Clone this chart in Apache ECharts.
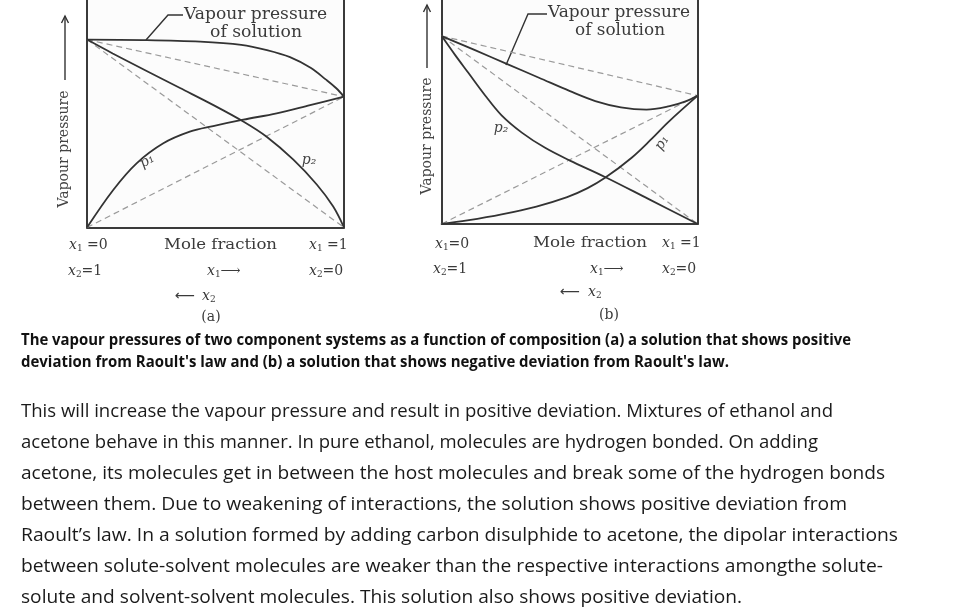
<!DOCTYPE html>
<html><head><meta charset="utf-8">
<script src="https://cdn.jsdelivr.net/npm/echarts@6/dist/echarts.min.js"></script>
<style>html,body{margin:0;padding:0;background:#fff}#c{width:955px;height:611px}</style>
</head><body><div id="c"></div>
<script>
// ---- Data (a): positive deviation ----
const aTotalX = [0,0.22,0.44,0.6,0.7,0.79,0.87,0.93,0.97,1];
const aTotalY = [82.6,82.4,81.7,80.3,78,74.9,70.2,65.0,61.2,57.5];
const aP2X = [0,0.1,0.232,0.362,0.492,0.608,0.699,0.803,0.894,0.958,1];
const aP2Y = [82.6,76.5,68.8,61.3,53.8,46.6,39.9,29.8,18.9,9.2,0];
const aP1X = [0,0.102,0.193,0.297,0.40,0.491,0.608,0.738,0.868,1];
const aP1Y = [0,16.5,28.2,37.0,42.1,44.6,47.4,50.2,53.8,57.5];
const aPure1 = 57.5, aPure2 = 82.6;
// ---- Data (b): negative deviation ----
const bTotalX = [0,0.13,0.254,0.38,0.501,0.6,0.70,0.80,0.89,0.95,1];
const bTotalY = [83.9,77.6,71.5,65.3,59.3,54.9,52.1,51.1,52.6,54.6,57.3];
const bP2X = [0,0.052,0.104,0.169,0.234,0.313,0.404,0.501,0.638,0.807,1];
const bP2Y = [83.9,75.5,67.5,57.5,48.5,40.8,34.0,28.3,21.0,11.2,0];
const bP1X = [0,0.1,0.234,0.37,0.49,0.57,0.638,0.742,0.82,0.885,1];
const bP1Y = [0,1.6,4.3,7.8,12.0,16.0,20.6,29.6,38.0,45.5,57.3];
const bPure1 = 57.3, bPure2 = 83.9;
// ---- Text ----
const captionLines = [
 "The vapour pressures of two component systems as a function of composition (a) a solution that shows positive",
 "deviation from Raoult's law and (b) a solution that shows negative deviation from Raoult's law."
];
const paraLines = [
 "This will increase the vapour pressure and result in positive deviation. Mixtures of ethanol and",
 "acetone behave in this manner. In pure ethanol, molecules are hydrogen bonded. On adding",
 "acetone, its molecules get in between the host molecules and break some of the hydrogen bonds",
 "between them. Due to weakening of interactions, the solution shows positive deviation from",
 "Raoult\u2019s law. In a solution formed by adding carbon disulphide to acetone, the dipolar interactions",
 "between solute-solvent molecules are weaker than the respective interactions amongthe solute-",
 "solute and solvent-solvent molecules. This solution also shows positive deviation."
];
const captionEnds = [851, 729];
const paraEnds = [833, 818, 885, 847, 898, 883, 742];

function zip(xs, ys){ return xs.map((x,i)=>[x, ys[i]]); }

const cv = document.createElement('canvas').getContext('2d');
function measure(text, font){ cv.font = font; return cv.measureText(text).width; }
function fitText(x, y, text, font, width, color){
  const w = measure(text, font);
  return {type:'text', x:x, y:y, scaleX: width / w, silent:true,
    style:{text:text, font:font, fill:color, textAlign:'left', textVerticalAlign:'middle'}};
}
function txt(x, y, text, font, color, align, rot){
  return {type:'text', x:x, y:y, rotation: rot||0, silent:true,
    style:{text:text, font:font, fill:color||'#3a3a3a', textAlign:align||'left', textVerticalAlign:'middle'}};
}
const SERIF = '"DejaVu Serif", "Liberation Serif", serif';
const LBL = '#3a3a3a';
function xlab(x, y, sub, rest){
  return {type:'text', x:x, y:y, silent:true,
    style:{text:'{i|x}{s|'+sub+'}{n|'+rest+'}', textAlign:'left', textVerticalAlign:'middle', fill:LBL,
      rich:{i:{fontFamily:'DejaVu Serif', fontStyle:'italic', fontSize:14, fill:LBL},
            s:{fontFamily:'DejaVu Serif', fontSize:9, fill:LBL, padding:[8,0,0,0]},
            n:{fontFamily:'DejaVu Serif', fontSize:14, fill:LBL}}}};
}
function arrowUp(x, y1, y2){
  return [
    {type:'line', silent:true, shape:{x1:x, y1:y1, x2:x, y2:y2}, style:{stroke:'#333', lineWidth:1.4}},
    {type:'polyline', silent:true, shape:{points:[[x-3.5,y2+7],[x,y2],[x+3.5,y2+7]]}, style:{stroke:'#333', lineWidth:1.4, fill:null}}
  ];
}

const graphics = [];
// y-axis titles
graphics.push(txt(64, 149, 'Vapour pressure', '14px '+SERIF, '#444', 'center', Math.PI/2));
graphics.push(...arrowUp(65, 80, 16));
graphics.push(txt(427, 136, 'Vapour pressure', '14px '+SERIF, '#444', 'center', Math.PI/2));
graphics.push(...arrowUp(427, 68, 5));
// leader labels
graphics.push(fitText(184, 15, 'Vapour pressure', '16px '+SERIF, 143, LBL));
graphics.push(fitText(210, 33, 'of solution', '16px '+SERIF, 92, LBL));
graphics.push({type:'polyline', silent:true, shape:{points:[[183,15],[168,15],[146,40]]}, style:{stroke:'#333', lineWidth:1.4, fill:null}});
graphics.push(fitText(548, 13, 'Vapour pressure', '16px '+SERIF, 142, LBL));
graphics.push(fitText(575, 31, 'of solution', '16px '+SERIF, 90, LBL));
graphics.push({type:'polyline', silent:true, shape:{points:[[547,14],[528,14],[506,65]]}, style:{stroke:'#333', lineWidth:1.4, fill:null}});
// curve labels
graphics.push(txt(147, 161, 'p\u2081', 'italic 14px '+SERIF, '#444', 'center', 0.55));
graphics.push(txt(309, 160, 'p\u2082', 'italic 14px '+SERIF, '#444', 'center', 0));
graphics.push(txt(501, 128, 'p\u2082', 'italic 14px '+SERIF, '#444', 'center', 0));
graphics.push(txt(662, 143, 'p\u2081', 'italic 14px '+SERIF, '#444', 'center', 1.0));
// bottom labels (a)
graphics.push(xlab(69, 245, '1', ' =0'));
graphics.push(fitText(164, 245, 'Mole fraction', '15px '+SERIF, 113, LBL));
graphics.push(xlab(309, 245, '1', ' =1'));
graphics.push(xlab(68, 271, '2', '=1'));
graphics.push(xlab(207, 271, '1', '\u27F6'));
graphics.push(xlab(309, 271, '2', '=0'));
graphics.push(txt(175, 296, '\u27F5', '14px "DejaVu Sans"', LBL, 'left'));
graphics.push(xlab(202, 296, '2', ''));
graphics.push(txt(211, 317, '(a)', '14px '+SERIF, LBL, 'center'));
// bottom labels (b)
graphics.push(xlab(435, 244, '1', '=0'));
graphics.push(fitText(533, 243, 'Mole fraction', '15px '+SERIF, 114, LBL));
graphics.push(xlab(662, 243, '1', ' =1'));
graphics.push(xlab(433, 269, '2', '=1'));
graphics.push(xlab(590, 269, '1', '\u27F6'));
graphics.push(xlab(662, 269, '2', '=0'));
graphics.push(txt(560, 292, '\u27F5', '14px "DejaVu Sans"', LBL, 'left'));
graphics.push(xlab(588, 292, '2', ''));
graphics.push(txt(609, 315, '(b)', '14px '+SERIF, LBL, 'center'));
// caption
const capFont = 'bold 16px "Open Sans", "Liberation Sans", sans-serif';
captionLines.forEach((t,i)=>graphics.push(fitText(21, 340 + i*22, t, capFont, captionEnds[i]-21, '#111')));
const parFont = '18.5px "Open Sans", "Liberation Sans", sans-serif';
paraLines.forEach((t,i)=>graphics.push(fitText(21, 412 + i*31, t, parFont, paraEnds[i]-21, '#1a1a1a')));

const FRAME = {show:true, lineStyle:{color:'#3a3a3a', width:2}};
function xAx(g){ return {type:'value', gridIndex:g, min:0, max:1, axisLine:FRAME, axisTick:{show:false}, axisLabel:{show:false}, splitLine:{show:false}}; }
function yAx(g, pos){ return {type:'value', gridIndex:g, position:pos, min:0, max:100, axisLine:FRAME, axisTick:{show:false}, axisLabel:{show:false}, splitLine:{show:false}}; }
function solid(g, data){ return {type:'line', xAxisIndex:g, yAxisIndex:g*2, data:data, smooth:0.35, showSymbol:false, silent:true, lineStyle:{color:'#333', width:1.8}}; }
function dashed(g, data){ return {type:'line', xAxisIndex:g, yAxisIndex:g*2, data:data, showSymbol:false, silent:true, lineStyle:{color:'#9a9a9a', width:1.2, type:[6,4]}}; }

const option = {
  animation:false,
  backgroundColor:'#ffffff',
  grid:[
    {left:87, right:955-344, top:0, bottom:611-227.5, show:true, backgroundColor:'#fcfcfc', borderWidth:0},
    {left:441.7, right:955-697.7, top:0, bottom:611-224, show:true, backgroundColor:'#fcfcfc', borderWidth:0}
  ],
  xAxis:[xAx(0), xAx(1)],
  yAxis:[yAx(0,'left'), yAx(0,'right'), yAx(1,'left'), yAx(1,'right')],
  series:[
    dashed(0, [[0,0],[1,aPure1]]),
    dashed(0, [[0,aPure2],[1,0]]),
    dashed(0, [[0,aPure2],[1,aPure1]]),
    solid(0, zip(aTotalX, aTotalY)),
    solid(0, zip(aP2X, aP2Y)),
    solid(0, zip(aP1X, aP1Y)),
    dashed(1, [[0,0],[1,bPure1]]),
    dashed(1, [[0,bPure2],[1,0]]),
    dashed(1, [[0,bPure2],[1,bPure1]]),
    solid(1, zip(bTotalX, bTotalY)),
    solid(1, zip(bP2X, bP2Y)),
    solid(1, zip(bP1X, bP1Y))
  ],
  graphic: graphics
};
const chart = echarts.init(document.getElementById('c'), null, {renderer:'canvas'});
chart.setOption(option);
</script></body></html>
